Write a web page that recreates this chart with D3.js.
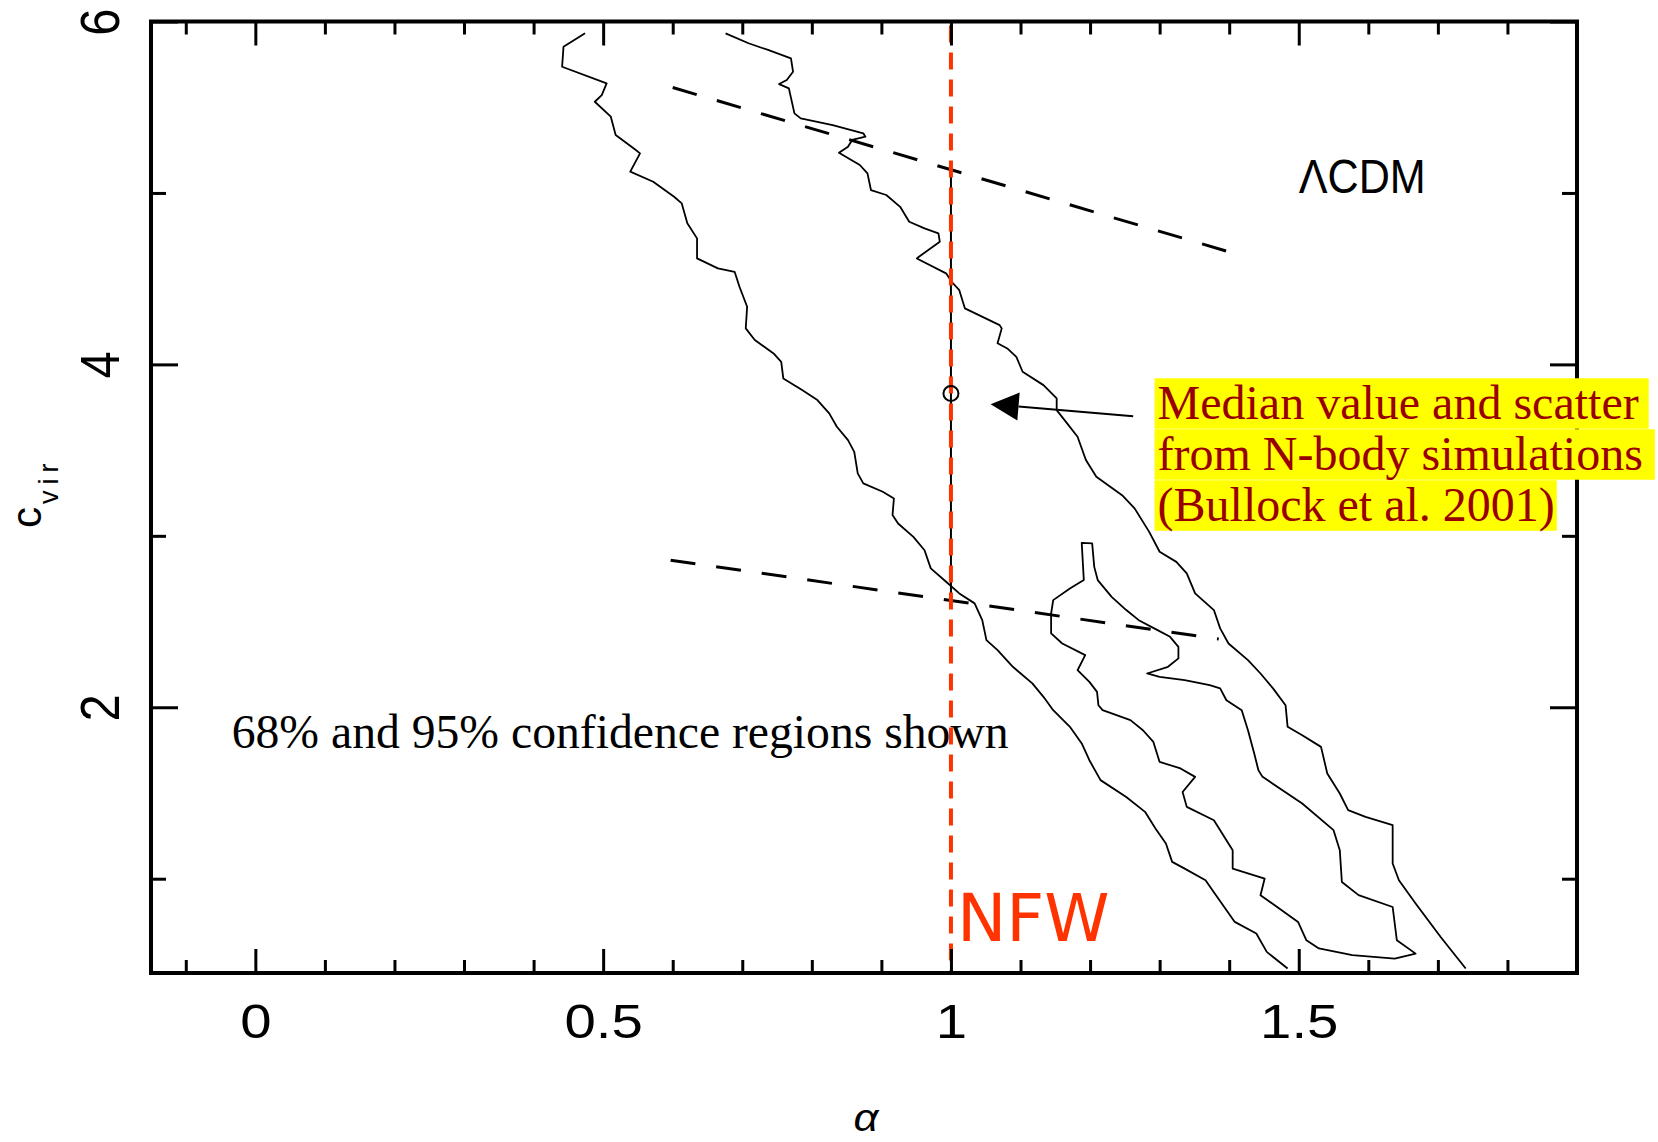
<!DOCTYPE html>
<html>
<head>
<meta charset="utf-8">
<script src="https://cdn.jsdelivr.net/npm/d3@7"></script>
<style>
  body { margin: 0; background: white; }
  svg { display: block; }
</style>
</head>
<body>
<div id="wrapper"></div>
<script>
// contour lines, points are [alpha, c_vir]
const contour95Left = [[0.474,5.931],[0.443,5.853],[0.441,5.736],[0.505,5.639],[0.498,5.571],[0.488,5.532],[0.511,5.445],[0.518,5.338],[0.547,5.250],[0.553,5.231],[0.539,5.124],[0.572,5.065],[0.602,4.978],[0.613,4.939],[0.621,4.823],[0.635,4.735],[0.635,4.618],[0.665,4.560],[0.689,4.540],[0.696,4.453],[0.707,4.336],[0.705,4.210],[0.718,4.142],[0.745,4.064],[0.756,4.015],[0.759,3.918],[0.786,3.850],[0.808,3.792],[0.825,3.714],[0.836,3.636],[0.852,3.558],[0.861,3.490],[0.866,3.364],[0.874,3.306],[0.902,3.257],[0.918,3.218],[0.916,3.121],[0.924,3.072],[0.946,2.994],[0.962,2.916],[0.971,2.810],[0.993,2.732],[1.012,2.664],[1.034,2.606],[1.045,2.508],[1.051,2.392],[1.067,2.333],[1.089,2.236],[1.117,2.139],[1.133,2.061],[1.147,1.983],[1.171,1.886],[1.188,1.789],[1.199,1.691],[1.215,1.575],[1.252,1.477],[1.279,1.390],[1.294,1.293],[1.309,1.205],[1.318,1.098],[1.336,1.059],[1.366,0.991],[1.381,0.904],[1.408,0.748],[1.439,0.680],[1.454,0.573],[1.484,0.476]]

const contour95Right = [[0.676,5.931],[0.709,5.873],[0.737,5.834],[0.770,5.785],[0.773,5.707],[0.764,5.659],[0.753,5.635],[0.767,5.610],[0.775,5.464],[0.784,5.435],[0.830,5.396],[0.874,5.348],[0.877,5.328],[0.858,5.309],[0.852,5.270],[0.839,5.235],[0.869,5.163],[0.880,5.114],[0.885,5.017],[0.907,4.988],[0.927,4.919],[0.940,4.832],[0.962,4.793],[0.982,4.764],[0.984,4.715],[0.954,4.628],[0.951,4.618],[0.993,4.531],[1.001,4.482],[1.012,4.433],[1.020,4.327],[1.070,4.229],[1.073,4.210],[1.067,4.123],[1.081,4.093],[1.094,4.044],[1.103,3.957],[1.133,3.879],[1.152,3.802],[1.152,3.733],[1.167,3.656],[1.182,3.578],[1.194,3.442],[1.209,3.344],[1.246,3.237],[1.264,3.160],[1.285,3.023],[1.300,2.907],[1.324,2.848],[1.339,2.781],[1.351,2.664],[1.378,2.567],[1.387,2.460],[1.399,2.372],[1.427,2.275],[1.445,2.197],[1.463,2.110],[1.481,2.012],[1.484,1.886],[1.505,1.837],[1.532,1.769],[1.541,1.614],[1.559,1.497],[1.571,1.400],[1.596,1.361],[1.635,1.312],[1.635,1.089],[1.644,0.991],[1.668,0.855],[1.704,0.660],[1.740,0.476]]

const contour68 = [[1.188,2.959],[1.191,2.742],[1.171,2.693],[1.147,2.625],[1.144,2.547],[1.144,2.431],[1.160,2.372],[1.193,2.304],[1.182,2.216],[1.199,2.148],[1.210,2.090],[1.212,2.012],[1.218,1.983],[1.258,1.925],[1.276,1.866],[1.291,1.798],[1.300,1.681],[1.330,1.643],[1.351,1.594],[1.333,1.506],[1.339,1.419],[1.378,1.341],[1.405,1.166],[1.405,1.059],[1.451,1.001],[1.445,0.904],[1.499,0.748],[1.511,0.641],[1.529,0.593],[1.577,0.554],[1.638,0.534],[1.668,0.563],[1.641,0.641],[1.635,0.835],[1.586,0.904],[1.562,0.981],[1.559,1.166],[1.550,1.283],[1.505,1.439],[1.448,1.594],[1.442,1.633],[1.436,1.730],[1.427,1.866],[1.418,1.983],[1.396,2.041],[1.387,2.110],[1.372,2.129],[1.336,2.158],[1.300,2.177],[1.282,2.197],[1.312,2.236],[1.327,2.285],[1.327,2.352],[1.315,2.411],[1.297,2.450],[1.270,2.508],[1.252,2.567],[1.231,2.644],[1.211,2.742],[1.206,2.819],[1.203,2.956]]

// LCDM scatter lines (dashed)
const lcdmUpper = [[0.600, 5.615], [1.401, 4.655]]
const lcdmLower = [[0.597, 2.858], [1.385, 2.398]]

// N-body median and scatter
const medianPoint = [1, 3.83]
const scatterRange = [2.635, 5.153]
const nfwAlpha = 1

const arrowFrom = [1.262, 3.698]
const arrowTo = [1.057, 3.768]

const xDomain = [-0.15, 1.9]
const yDomain = [0.45, 6]
const xMajorTicks = [0, 0.5, 1, 1.5]
const xTickLabels = ["0", "0.5", "1", "1.5"]
const xMinorTicks = [-0.1, 0.1, 0.2, 0.3, 0.4, 0.6, 0.7, 0.8, 0.9, 1.1, 1.2, 1.3, 1.4, 1.6, 1.7, 1.8]
const yMajorTicks = [2, 4, 6]
const yTickLabels = ["2", "4", "6"]
const yMinorTicks = [1, 3, 5]

const noteLines = ["Median value and scatter", "from N-body simulations", "(Bullock et al. 2001)"]

function drawChart() {

    // 1. Dimensions
    let dimensions = {
        width: 1658,
        height: 1142,
        margin: { top: 21.5, right: 81, bottom: 169, left: 151 },
    }
    dimensions.boundedWidth = dimensions.width - dimensions.margin.left - dimensions.margin.right
    dimensions.boundedHeight = dimensions.height - dimensions.margin.top - dimensions.margin.bottom
    const bw = dimensions.boundedWidth
    const bh = dimensions.boundedHeight

    const fontAxis = "'Liberation Sans', Arial, sans-serif"
    const fontSerif = "'Liberation Serif', 'Times New Roman', serif"
    const fontNfw = "'Comic Sans MS', 'DejaVu Sans', sans-serif"

    // 2. Canvas
    const wrapper = d3.select("#wrapper")
        .append("svg")
        .attr("width", dimensions.width)
        .attr("height", dimensions.height)
        .style("background", "white")

    const bounds = wrapper.append("g")
        .attr("transform", `translate(${dimensions.margin.left},${dimensions.margin.top})`)

    // 3. Scales
    const xScale = d3.scaleLinear().domain(xDomain).range([0, bw])
    const yScale = d3.scaleLinear().domain(yDomain).range([bh, 0])

    const lineGen = d3.line()
        .x(d => xScale(d[0]))
        .y(d => yScale(d[1]))

    // 4. Contours
    bounds.selectAll(".contour")
        .data([contour95Left, contour95Right])
        .join("path")
        .attr("class", "contour")
        .attr("d", lineGen)
        .attr("fill", "none")
        .attr("stroke", "black")
        .attr("stroke-width", 1.8)
        .attr("stroke-linejoin", "round")

    bounds.append("path")
        .attr("d", lineGen.curve(d3.curveLinearClosed)(contour68))
        .attr("fill", "none")
        .attr("stroke", "black")
        .attr("stroke-width", 1.8)
        .attr("stroke-linejoin", "round")
    lineGen.curve(d3.curveLinear)

    // LCDM dashed lines
    bounds.selectAll(".lcdm")
        .data([lcdmUpper, lcdmLower])
        .join("path")
        .attr("class", "lcdm")
        .attr("d", lineGen)
        .attr("fill", "none")
        .attr("stroke", "black")
        .attr("stroke-width", 3)
        .attr("stroke-dasharray", "25,21")

    // scatter + median
    bounds.append("line")
        .attr("x1", xScale(medianPoint[0]))
        .attr("x2", xScale(medianPoint[0]))
        .attr("y1", yScale(scatterRange[0]))
        .attr("y2", yScale(scatterRange[1]))
        .attr("stroke", "black")
        .attr("stroke-width", 2)

    // NFW line
    bounds.append("line")
        .attr("x1", xScale(nfwAlpha))
        .attr("x2", xScale(nfwAlpha))
        .attr("y1", yScale(yDomain[1]) + 4)
        .attr("y2", yScale(yDomain[0]))
        .attr("stroke", "#ff3300")
        .attr("stroke-width", 4)
        .attr("stroke-dasharray", "17,10")

    bounds.append("circle")
        .attr("cx", xScale(medianPoint[0]))
        .attr("cy", yScale(medianPoint[1]))
        .attr("r", 7.5)
        .attr("fill", "none")
        .attr("stroke", "black")
        .attr("stroke-width", 2)

    // 5. Axes (ticks on all four sides, pointing inward)
    const styleTicks = g => {
        g.select(".domain").remove()
        g.selectAll(".tick line").attr("stroke", "black").attr("stroke-width", 3)
    }

    bounds.append("g")
        .attr("transform", `translate(0,${bh})`)
        .call(d3.axisBottom(xScale).tickValues(xMinorTicks).tickSize(-13).tickFormat(""))
        .call(styleTicks)
    const xAxis = bounds.append("g")
        .attr("transform", `translate(0,${bh})`)
        .call(d3.axisBottom(xScale).tickValues(xMajorTicks).tickSize(-24).tickFormat((d, i) => xTickLabels[i]))
        .call(styleTicks)
    xAxis.selectAll(".tick text")
        .attr("y", null)
        .attr("dy", null)
        .attr("transform", "translate(0,65) scale(1.15,1)")
        .attr("font-family", fontAxis)
        .attr("font-size", 49)
        .attr("fill", "black")

    bounds.append("g")
        .call(d3.axisTop(xScale).tickValues(xMinorTicks).tickSize(-13).tickFormat(""))
        .call(styleTicks)
    bounds.append("g")
        .call(d3.axisTop(xScale).tickValues(xMajorTicks).tickSize(-24).tickFormat(""))
        .call(styleTicks)

    bounds.append("g")
        .call(d3.axisLeft(yScale).tickValues(yMinorTicks).tickSize(-15).tickFormat(""))
        .call(styleTicks)
    const yAxis = bounds.append("g")
        .call(d3.axisLeft(yScale).tickValues(yMajorTicks).tickSize(-27).tickFormat((d, i) => yTickLabels[i]))
        .call(styleTicks)
    yAxis.selectAll(".tick text")
        .attr("x", null)
        .attr("dy", null)
        .attr("text-anchor", "middle")
        .attr("transform", "translate(-32,0) rotate(-90) scale(1,1.15)")
        .attr("font-family", fontAxis)
        .attr("font-size", 49)
        .attr("fill", "black")

    bounds.append("g")
        .attr("transform", `translate(${bw},0)`)
        .call(d3.axisRight(yScale).tickValues(yMinorTicks).tickSize(-15).tickFormat(""))
        .call(styleTicks)
    bounds.append("g")
        .attr("transform", `translate(${bw},0)`)
        .call(d3.axisRight(yScale).tickValues(yMajorTicks).tickSize(-27).tickFormat(""))
        .call(styleTicks)

    // frame
    bounds.append("rect")
        .attr("width", bw)
        .attr("height", bh)
        .attr("fill", "none")
        .attr("stroke", "black")
        .attr("stroke-width", 4)

    // axis titles
    wrapper.append("text")
        .attr("transform", "translate(866,1131) scale(1.15,1)")
        .attr("text-anchor", "middle")
        .attr("font-family", fontAxis)
        .attr("font-style", "italic")
        .attr("font-size", 38)
        .text("α")

    const yTitle = wrapper.append("text")
        .attr("transform", "translate(41,528) rotate(-90)")
        .attr("font-family", fontAxis)
        .attr("fill", "black")
    yTitle.append("tspan").attr("font-size", 42).text("c")
    yTitle.append("tspan")
        .attr("font-size", 27)
        .attr("dy", 17)
        .attr("dx", 3)
        .attr("letter-spacing", 6)
        .text("vir")

    // 6. Annotations
    bounds.append("text")
        .attr("x", xScale(1.5))
        .attr("y", yScale(5.0))
        .attr("font-family", fontAxis)
        .attr("font-size", 49)
        .attr("textLength", 127)
        .attr("lengthAdjust", "spacingAndGlyphs")
        .text("ΛCDM")

    bounds.append("text")
        .attr("x", xScale(-0.034))
        .attr("y", yScale(1.76))
        .attr("font-family", fontSerif)
        .attr("font-size", 48)
        .attr("textLength", 777)
        .attr("lengthAdjust", "spacingAndGlyphs")
        .text("68% and 95% confidence regions shown")

    bounds.append("text")
        .attr("x", xScale(nfwAlpha) + 6)
        .attr("y", yScale(0.635))
        .attr("font-family", fontNfw)
        .attr("font-size", 66)
        .attr("fill", "#ff3300")
        .text("NFW")

    // arrow
    const tip = [xScale(arrowTo[0]), yScale(arrowTo[1])]
    const tail = [xScale(arrowFrom[0]), yScale(arrowFrom[1])]
    const ang = Math.atan2(tip[1] - tail[1], tip[0] - tail[0])
    const headLen = 28, headHalf = 14
    const base = [tip[0] - headLen * Math.cos(ang), tip[1] - headLen * Math.sin(ang)]
    const perp = [-Math.sin(ang), Math.cos(ang)]
    bounds.append("line")
        .attr("x1", tail[0]).attr("y1", tail[1])
        .attr("x2", base[0]).attr("y2", base[1])
        .attr("stroke", "black")
        .attr("stroke-width", 2)
    bounds.append("polygon")
        .attr("points", [
            tip,
            [base[0] + perp[0] * headHalf, base[1] + perp[1] * headHalf],
            [base[0] - perp[0] * headHalf, base[1] - perp[1] * headHalf]
        ].map(p => p.join(",")).join(" "))
        .attr("fill", "black")

    // yellow note
    const noteX = xScale(1.297)
    const noteY = yScale(3.68)
    const lineHeight = 51
    const rightPad = [8, 10, 0]
    const note = bounds.append("g")
    noteLines.forEach((txt, i) => {
        const rect = note.append("rect").attr("fill", "#ffff00")
        const t = note.append("text")
            .attr("x", noteX)
            .attr("y", noteY + i * lineHeight)
            .attr("font-family", fontSerif)
            .attr("font-size", 48)
            .attr("fill", "#990000")
            .text(txt)
        const bb = t.node().getBBox()
        rect.attr("x", bb.x - 3)
            .attr("y", noteY + i * lineHeight - 41)
            .attr("width", bb.width + 5 + rightPad[i])
            .attr("height", lineHeight - 0.5)
    })
}
drawChart()
</script>
</body>
</html>
